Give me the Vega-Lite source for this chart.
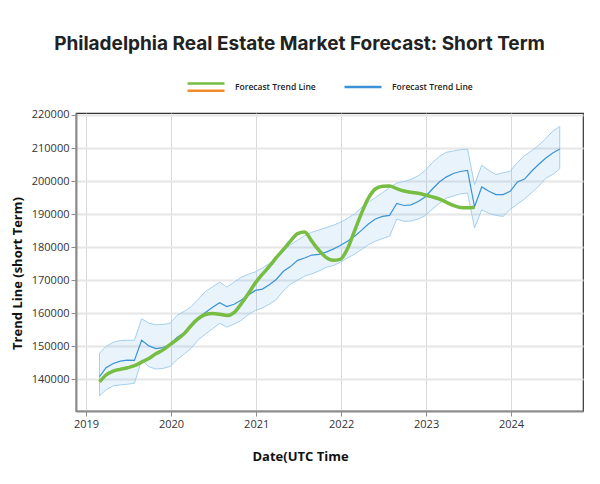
{
  "$schema": "https://vega.github.io/schema/vega-lite/v6.json",
  "width": 507,
  "height": 298,
  "autosize": {"type": "none"},
  "padding": {"left": 76, "top": 113, "right": 17, "bottom": 73},
  "background": "white",
  "title": {
    "text": "Philadelphia Real Estate Market Forecast: Short Term",
    "font": "Inter",
    "fontSize": 19,
    "fontWeight": 700,
    "color": "#222222",
    "anchor": "middle",
    "frame": "group",
    "dx": -30,
    "offset": 13
  },
  "config": {
    "view": {"stroke": "#333333", "strokeWidth": 1.2},
    "axis": {
      "labelFont": "Open Sans",
      "labelFontSize": 11,
      "labelColor": "#333333",
      "labelOverlap": false,
      "domainColor": "#8c8c8c",
      "domainWidth": 2,
      "tickColor": "#8c8c8c",
      "tickSize": 5,
      "labelPadding": 2,
      "titleFont": "Open Sans",
      "titleFontSize": 13,
      "titleFontWeight": "bold",
      "titleColor": "#111111"
    },
    "axisY": {"gridColor": "#e6e6e6", "gridWidth": 2},
    "axisX": {"gridColor": "#d9d9d9", "gridWidth": 1}
  },
  "data": {
    "values": [
      {"d": "2019-02-28", "b": 140800, "lo": 135000, "hi": 147900, "g": 139200},
      {"d": "2019-03-28", "b": 143500, "lo": 136800, "hi": 150000, "g": 141300},
      {"d": "2019-04-28", "b": 144800, "lo": 138000, "hi": 151200, "g": 142500},
      {"d": "2019-05-28", "b": 145500, "lo": 138300, "hi": 151700, "g": 143000},
      {"d": "2019-06-28", "b": 145800, "lo": 138500, "hi": 151800, "g": 143500},
      {"d": "2019-07-28", "b": 145700, "lo": 138800, "hi": 151800, "g": 144100},
      {"d": "2019-08-28", "b": 151800, "lo": 145800, "hi": 158300, "g": 145200},
      {"d": "2019-09-28", "b": 150100, "lo": 143800, "hi": 157000, "g": 146300},
      {"d": "2019-10-28", "b": 149300, "lo": 143100, "hi": 156500, "g": 147700},
      {"d": "2019-11-28", "b": 149600, "lo": 143300, "hi": 156600, "g": 148900},
      {"d": "2019-12-28", "b": 150600, "lo": 143900, "hi": 157000, "g": 150500},
      {"d": "2020-01-28", "b": 152700, "lo": 146000, "hi": 159400, "g": 152100},
      {"d": "2020-02-28", "b": 154200, "lo": 147700, "hi": 160600, "g": 153900},
      {"d": "2020-03-28", "b": 156300, "lo": 149400, "hi": 162000, "g": 156300},
      {"d": "2020-04-28", "b": 158700, "lo": 152000, "hi": 164300, "g": 158400},
      {"d": "2020-05-28", "b": 160200, "lo": 153700, "hi": 166600, "g": 159600},
      {"d": "2020-06-28", "b": 161800, "lo": 155300, "hi": 168000, "g": 159900},
      {"d": "2020-07-28", "b": 163200, "lo": 156900, "hi": 169400, "g": 159700},
      {"d": "2020-08-28", "b": 162000, "lo": 155800, "hi": 167900, "g": 159300},
      {"d": "2020-09-28", "b": 162700, "lo": 156700, "hi": 169400, "g": 160200},
      {"d": "2020-10-28", "b": 163900, "lo": 157800, "hi": 170800, "g": 162800},
      {"d": "2020-11-28", "b": 165400, "lo": 159600, "hi": 171800, "g": 165900},
      {"d": "2020-12-28", "b": 166900, "lo": 160800, "hi": 172500, "g": 169100},
      {"d": "2021-01-28", "b": 167300, "lo": 161600, "hi": 173700, "g": 171800},
      {"d": "2021-02-28", "b": 168700, "lo": 162800, "hi": 175100, "g": 174300},
      {"d": "2021-03-28", "b": 170200, "lo": 164100, "hi": 176900, "g": 176800},
      {"d": "2021-04-28", "b": 172700, "lo": 166800, "hi": 178800, "g": 179300},
      {"d": "2021-05-28", "b": 174100, "lo": 168800, "hi": 180700, "g": 181800},
      {"d": "2021-06-28", "b": 176000, "lo": 170000, "hi": 182100, "g": 184100},
      {"d": "2021-07-28", "b": 176700, "lo": 171200, "hi": 183500, "g": 184600},
      {"d": "2021-08-28", "b": 177600, "lo": 171900, "hi": 184500, "g": 181800},
      {"d": "2021-09-28", "b": 177800, "lo": 172800, "hi": 185200, "g": 179000},
      {"d": "2021-10-28", "b": 178500, "lo": 173900, "hi": 185900, "g": 176900},
      {"d": "2021-11-28", "b": 179400, "lo": 174400, "hi": 186600, "g": 176000},
      {"d": "2021-12-28", "b": 180500, "lo": 175400, "hi": 187500, "g": 176300},
      {"d": "2022-01-28", "b": 181800, "lo": 176700, "hi": 188700, "g": 179500},
      {"d": "2022-02-28", "b": 183300, "lo": 177900, "hi": 190100, "g": 185000},
      {"d": "2022-03-28", "b": 185000, "lo": 179200, "hi": 191900, "g": 190000},
      {"d": "2022-04-28", "b": 187000, "lo": 180700, "hi": 193600, "g": 194800},
      {"d": "2022-05-28", "b": 188500, "lo": 181800, "hi": 195000, "g": 197600},
      {"d": "2022-06-28", "b": 189300, "lo": 182600, "hi": 196500, "g": 198400},
      {"d": "2022-07-28", "b": 189600, "lo": 183300, "hi": 198000, "g": 198500},
      {"d": "2022-08-28", "b": 193200, "lo": 188500, "hi": 199400, "g": 197700},
      {"d": "2022-09-28", "b": 192600, "lo": 187800, "hi": 199900, "g": 197000},
      {"d": "2022-10-28", "b": 192800, "lo": 187900, "hi": 200500, "g": 196600},
      {"d": "2022-11-28", "b": 193800, "lo": 188500, "hi": 201600, "g": 196300},
      {"d": "2022-12-28", "b": 195200, "lo": 189500, "hi": 203200, "g": 195800},
      {"d": "2023-01-28", "b": 197600, "lo": 191500, "hi": 205600, "g": 195200},
      {"d": "2023-02-28", "b": 199800, "lo": 193300, "hi": 207500, "g": 194500},
      {"d": "2023-03-28", "b": 201200, "lo": 194800, "hi": 208700, "g": 193600},
      {"d": "2023-04-28", "b": 202300, "lo": 195500, "hi": 209100, "g": 192600},
      {"d": "2023-05-28", "b": 202900, "lo": 196100, "hi": 209500, "g": 192000},
      {"d": "2023-06-28", "b": 203200, "lo": 196400, "hi": 209700, "g": 191900},
      {"d": "2023-07-28", "b": 192200, "lo": 185800, "hi": 198900, "g": 192100},
      {"d": "2023-08-28", "b": 198200, "lo": 191300, "hi": 204800, "g": null},
      {"d": "2023-09-28", "b": 196900, "lo": 190200, "hi": 203200, "g": null},
      {"d": "2023-10-28", "b": 195900, "lo": 189600, "hi": 202000, "g": null},
      {"d": "2023-11-28", "b": 195900, "lo": 189300, "hi": 202500, "g": null},
      {"d": "2023-12-28", "b": 196900, "lo": 191400, "hi": 203000, "g": null},
      {"d": "2024-01-28", "b": 199700, "lo": 193000, "hi": 205600, "g": null},
      {"d": "2024-02-28", "b": 200600, "lo": 194600, "hi": 207700, "g": null},
      {"d": "2024-03-28", "b": 202900, "lo": 196400, "hi": 209100, "g": null},
      {"d": "2024-04-28", "b": 205000, "lo": 198400, "hi": 210800, "g": null},
      {"d": "2024-05-28", "b": 206900, "lo": 200800, "hi": 212800, "g": null},
      {"d": "2024-06-28", "b": 208500, "lo": 202000, "hi": 215100, "g": null},
      {"d": "2024-07-28", "b": 209700, "lo": 203700, "hi": 216500, "g": null}
    ]
  },
  "encoding": {
    "x": {
      "field": "d",
      "type": "temporal",
      "scale": {
        "type": "utc",
        "domain": [
          {"year": 2018, "month": 11, "date": 19, "utc": true},
          {"year": 2024, "month": 11, "date": 5, "utc": true}
        ]
      },
      "axis": {
        "format": "%Y",
        "tickCount": {"interval": "year", "step": 1},
        "title": "Date(UTC Time",
        "titleX": 224,
        "titleY": 45,
        "titleAlign": "center",
        "titleBaseline": "middle",
        "labelFlush": false
      }
    }
  },
  "layer": [
    {
      "mark": {"type": "area", "fill": "#4d9fe0", "fillOpacity": 0.12, "stroke": "#9ccbec", "strokeWidth": 1, "strokeOpacity": 0.9},
      "encoding": {
        "y": {
          "field": "lo",
          "type": "quantitative",
          "scale": {"domain": [130400, 220600], "nice": false, "zero": false},
          "axis": {
            "values": [140000, 150000, 160000, 170000, 180000, 190000, 200000, 210000, 220000],
            "format": "d",
            "labelOverlap": false,
            "title": "Trend Line (short Term)",
            "titleX": -59,
            "titleY": 160,
            "titleAngle": -90,
            "titleAlign": "center",
            "titleBaseline": "middle"
          }
        },
        "y2": {"field": "hi"}
      }
    },
    {
      "mark": {"type": "line", "strokeWidth": 1.2},
      "encoding": {
        "y": {
          "field": "b",
          "type": "quantitative",
          "axis": {
            "values": [140000, 150000, 160000, 170000, 180000, 190000, 200000, 210000, 220000],
            "format": "d",
            "labelOverlap": false,
            "title": "Trend Line (short Term)",
            "titleX": -59,
            "titleY": 160,
            "titleAngle": -90,
            "titleAlign": "center",
            "titleBaseline": "middle"
          }
        },
        "color": {
          "datum": "B",
          "type": "nominal",
          "scale": {"domain": ["G", "B"], "range": ["#76bd42", "#3a93d6"]},
          "legend": {
            "orient": "none",
            "legendX": 110,
            "legendY": -46,
            "direction": "horizontal",
            "title": null,
            "labelExpr": "'Forecast Trend Line'",
            "symbolSize": 1369,
            "symbolStrokeWidth": 2.5,
            "labelFont": "Open Sans",
            "labelFontSize": 8.5,
            "labelFontWeight": 600,
            "labelColor": "#222222",
            "labelOffset": 9,
            "columnPadding": 23,
            "padding": 0,
            "encode": {
              "symbols": {
                "update": {
                  "shape": {"signal": "datum.value === 'G' ? 'M-1,-0.2L1,-0.2' : 'M-1,0L1,0'"}
                }
              }
            }
          }
        }
      }
    },
    {
      "mark": {"type": "line", "strokeWidth": 2, "interpolate": "monotone"},
      "encoding": {
        "y": {
          "field": "g",
          "type": "quantitative",
          "axis": {
            "values": [140000, 150000, 160000, 170000, 180000, 190000, 200000, 210000, 220000],
            "format": "d",
            "labelOverlap": false,
            "title": "Trend Line (short Term)",
            "titleX": -59,
            "titleY": 160,
            "titleAngle": -90,
            "titleAlign": "center",
            "titleBaseline": "middle"
          }
        },
        "stroke": {
          "datum": "O",
          "type": "nominal",
          "scale": {"domain": ["O"], "range": ["#f08a2a"]},
          "legend": {
            "orient": "none",
            "legendX": 110,
            "legendY": -46,
            "direction": "horizontal",
            "title": null,
            "labelExpr": "''",
            "symbolSize": 1369,
            "symbolStrokeWidth": 2.5,
            "padding": 0,
            "encode": {
              "symbols": {
                "update": {
                  "shape": {"value": "M-1,0.2L1,0.2"}
                }
              }
            }
          }
        }
      }
    },
    {
      "mark": {"type": "line", "strokeWidth": 3.5, "interpolate": "monotone"},
      "encoding": {
        "y": {
          "field": "g",
          "type": "quantitative",
          "axis": {
            "values": [140000, 150000, 160000, 170000, 180000, 190000, 200000, 210000, 220000],
            "format": "d",
            "labelOverlap": false,
            "title": "Trend Line (short Term)",
            "titleX": -59,
            "titleY": 160,
            "titleAngle": -90,
            "titleAlign": "center",
            "titleBaseline": "middle"
          }
        },
        "color": {"datum": "G", "type": "nominal"}
      }
    }
  ]
}
